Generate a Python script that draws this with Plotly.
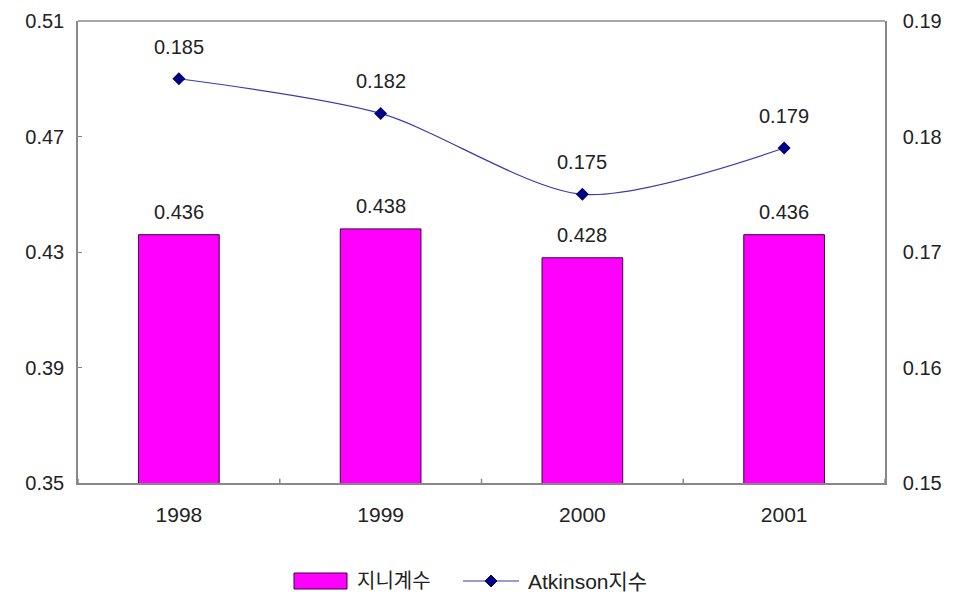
import plotly.graph_objects as go

years = ["1998", "1999", "2000", "2001"]
gini = [0.436, 0.438, 0.428, 0.436]
atkinson = [0.185, 0.182, 0.175, 0.179]
left_ticks = [0.35, 0.39, 0.43, 0.47, 0.51]
right_ticks = [0.15, 0.16, 0.17, 0.18, 0.19]
series_names = ["지니계수", "Atkinson지수"]

FONT = "Liberation Sans, Arial, Noto Sans CJK KR, sans-serif"
TXT = "#222222"
FS = 20

# the page body has an 8px offset; figure sized to fill the rest of the window
OFF = 8
W, H = 959 - OFF, 604 - OFF
L, R, T, B = 78 - OFF, 74, 21 - OFF, 121
PW, PH = W - L - R, H - T - B


def px(xp):
    return (xp - OFF - L) / PW


def py(yp):
    return (H - B - (yp - OFF)) / PH


xs = list(range(len(years)))

fig = go.Figure()
fig.add_trace(go.Bar(
    x=xs, y=gini, name=series_names[0], width=0.4,
    marker=dict(color="#ff00ff", line=dict(color="#400040", width=1)),
    yaxis="y",
))
fig.add_trace(go.Scatter(
    x=xs, y=atkinson, name=series_names[1], mode="lines+markers",
    line=dict(color="#3a3aaa", width=1.2, shape="spline", smoothing=0.8),
    marker=dict(symbol="diamond", size=10, color="#000080"),
    yaxis="y2",
))

annotations = []
for x, v in zip(xs, gini):
    annotations.append(dict(x=x, y=v, xref="x", yref="y", text=f"{v:.3f}",
                            showarrow=False, yshift=23,
                            font=dict(size=FS, color=TXT, family=FONT)))
for x, v in zip(xs, atkinson):
    annotations.append(dict(x=x, y=v, xref="x", yref="y2", text=f"{v:.3f}",
                            showarrow=False, yshift=32,
                            font=dict(size=FS, color=TXT, family=FONT)))

# custom legend (bottom)
leg_y = py(581)
annotations.append(dict(x=px(355), y=leg_y, xref="paper", yref="paper",
                        text=series_names[0], showarrow=False, xanchor="left",
                        yanchor="middle", font=dict(size=20, color=TXT, family=FONT)))
annotations.append(dict(x=px(526), y=leg_y, xref="paper", yref="paper",
                        text=series_names[1], showarrow=False, xanchor="left",
                        yanchor="middle", font=dict(size=21, color=TXT, family=FONT)))

shapes = [
    dict(type="line", xref="paper", yref="paper", x0=0, x1=1, y0=1, y1=1,
         line=dict(color="#888888", width=1.5)),
    dict(type="rect", xref="paper", yref="paper", x0=px(294), x1=px(347),
         y0=py(589), y1=py(573), fillcolor="#ff00ff",
         line=dict(color="#400040", width=1)),
    dict(type="line", xref="paper", yref="paper", x0=px(463), x1=px(519),
         y0=leg_y, y1=leg_y, line=dict(color="#3a3aaa", width=1.2)),
    dict(type="path", xref="paper", yref="paper",
         path=(f"M {px(485)} {leg_y} L {px(491)} {py(575)} L {px(497)} {leg_y} "
               f"L {px(491)} {py(587)} Z"),
         fillcolor="#000080", line=dict(color="#000080", width=1)),
]
for i in range(len(years) + 1):
    shapes.append(dict(type="line", xref="x", yref="y", x0=i - 0.5, x1=i - 0.5,
                       y0=0.35, y1=0.3515, line=dict(color="#888888", width=1.5)))

fig.update_layout(
    width=W, height=H,
    margin=dict(l=L, r=R, t=T, b=B, autoexpand=False),
    plot_bgcolor="white", paper_bgcolor="white",
    font=dict(family=FONT, size=FS, color=TXT),
    showlegend=False,
    xaxis=dict(range=[-0.5, len(years) - 0.5], tickvals=xs, ticktext=years,
               showline=True, linecolor="#888888", linewidth=1.5,
               ticks="", showgrid=False, zeroline=False, tickfont=dict(size=21),
               ticklabelstandoff=12),
    yaxis=dict(range=[0.35, 0.51], tickvals=left_ticks,
               ticktext=[f"{t:.2f}" for t in left_ticks],
               showline=True, linecolor="#888888", linewidth=1.5,
               ticks="inside", ticklen=4, tickcolor="#888888",
               showgrid=False, zeroline=False, tickfont=dict(size=FS),
               ticklabelstandoff=8, ticklabeloverflow="allow"),
    yaxis2=dict(range=[0.15, 0.19], tickvals=right_ticks,
                ticktext=[f"{t:.2f}" for t in right_ticks],
                overlaying="y", side="right",
                showline=True, linecolor="#888888", linewidth=1.5,
                ticks="", showgrid=False, zeroline=False, tickfont=dict(size=FS),
                ticklabelstandoff=12, ticklabeloverflow="allow"),
    annotations=annotations,
    shapes=shapes,
)

fig.write_html("out.html")
